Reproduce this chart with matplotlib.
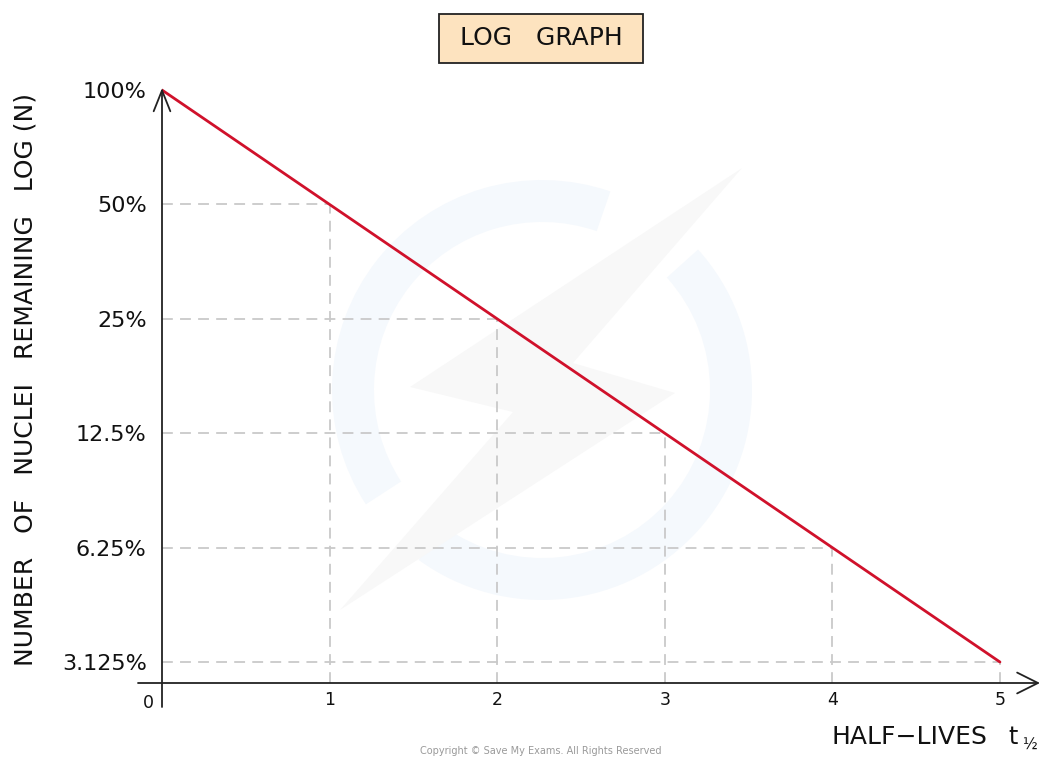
import matplotlib
matplotlib.use("Agg")
import matplotlib.pyplot as plt
from matplotlib.patches import Wedge, Polygon

# ---- data ----
half_lives = [0, 1, 2, 3, 4, 5]
remaining = [100, 50, 25, 12.5, 6.25, 3.125]
y_tick_labels = ["100%", "50%", "25%", "12.5%", "6.25%", "3.125%"]
x_tick_values = [1, 2, 3, 4, 5]
x_tick_labels = ["1", "2", "3", "4", "5"]

plt.rcParams['font.family'] = ['DejaVu Sans']

W, H = 1042, 758
fig = plt.figure(figsize=(W / 100, H / 100), dpi=100)

# background axes for the faint watermark (pixel coords, y up)
bg = fig.add_axes([0, 0, 1, 1], zorder=-5)
bg.set_xlim(0, W)
bg.set_ylim(0, H)
bg.axis('off')
cx, cy = 542, H - 390
bg.add_patch(Wedge((cx, cy), 210, 71, 213, width=42, facecolor='#f5f9fd', edgecolor='none'))
bg.add_patch(Wedge((cx, cy), 210, -126, 42, width=42, facecolor='#f5f9fd', edgecolor='none'))
bolt = [(742, 168), (410, 387), (513, 412), (340, 610), (675, 393), (573, 363)]
bg.add_patch(Polygon([(px, H - py) for px, py in bolt], closed=True,
                     facecolor='#f8f8f8', edgecolor='none'))

# axes in pixel geometry
left_px, right_px, bottom_px, top_px = 162, 1040, 683, 85
ax = fig.add_axes([left_px / W, 1 - bottom_px / H,
                   (right_px - left_px) / W, (bottom_px - top_px) / H], zorder=1)
ax.set_yscale('log')
ax.set_xlim(0, 5.239)
ax.set_ylim(2.752, 103.1)
ax.patch.set_alpha(0)
for s in ax.spines.values():
    s.set_visible(False)

grid_col = '#c9c9c9'
for x, y in zip(half_lives[1:], remaining[1:]):
    ax.hlines(y, 0, x, colors=grid_col, linestyles=(0, (6, 4)), lw=1.3, zorder=1)
    ax.vlines(x, ax.get_ylim()[0], y, colors=grid_col, linestyles=(0, (6, 4)), lw=1.3, zorder=1)

ax.plot(half_lives, remaining, color='#d0112b', lw=2.0, zorder=3, solid_capstyle='round')

# axis lines with open arrowheads
axis_col = '#222222'
ax.annotate('', xy=(1.0, 0), xytext=(-24 / 878, 0), xycoords='axes fraction',
            textcoords='axes fraction',
            arrowprops=dict(arrowstyle='->, head_length=1.5, head_width=0.75',
                            color=axis_col, lw=1.3, shrinkA=0, shrinkB=0), annotation_clip=False)
ax.annotate('', xy=(0, (683 - 88) / 598), xytext=(0, -24 / 598), xycoords='axes fraction',
            textcoords='axes fraction',
            arrowprops=dict(arrowstyle='->, head_length=1.5, head_width=0.6',
                            color=axis_col, lw=1.3, shrinkA=0, shrinkB=0), annotation_clip=False)

ax.set_yticks(remaining)
ax.set_yticklabels(y_tick_labels)
ax.yaxis.set_minor_locator(matplotlib.ticker.NullLocator())
ax.set_xticks(x_tick_values)
ax.set_xticklabels(x_tick_labels)
ax.tick_params(axis='y', length=0, pad=11, labelsize=16, labelcolor='#111111')
ax.tick_params(axis='x', length=0, pad=6, labelsize=12.5, labelcolor='#111111')

# origin label
fig.text(148 / W, 1 - 703 / H, "0", ha='center', va='center', fontsize=12.5, color='#111111')

# axis labels
fig.text(26 / W, 1 - 380 / H, "NUMBER   OF   NUCLEI   REMAINING   LOG (N)", rotation=90,
         ha='center', va='center', fontsize=18, color='#111111')
fig.text(987 / W, 1 - 737 / H, "HALF−LIVES", ha='right', va='center',
         fontsize=18, color='#111111')
fig.text(1008 / W, 1 - 737 / H, "t", ha='left', va='center',
         fontsize=17, color='#111111')
fig.text(1022 / W, 1 - 745 / H, "½", ha='left', va='center', fontsize=11, color='#111111')

# title box
fig.text(541 / W, 1 - 38 / H, " LOG   GRAPH ", ha='center', va='center', fontsize=18,
         color='#111111',
         bbox=dict(boxstyle='square,pad=0.5', facecolor='#fde3bf', edgecolor='#222222', lw=1.3))

# copyright
fig.text(541 / W, 1 - 751 / H, "Copyright © Save My Exams. All Rights Reserved",
         ha='center', va='center', fontsize=7, color='#9a9a9a')

fig.savefig('out.png', dpi=100)
